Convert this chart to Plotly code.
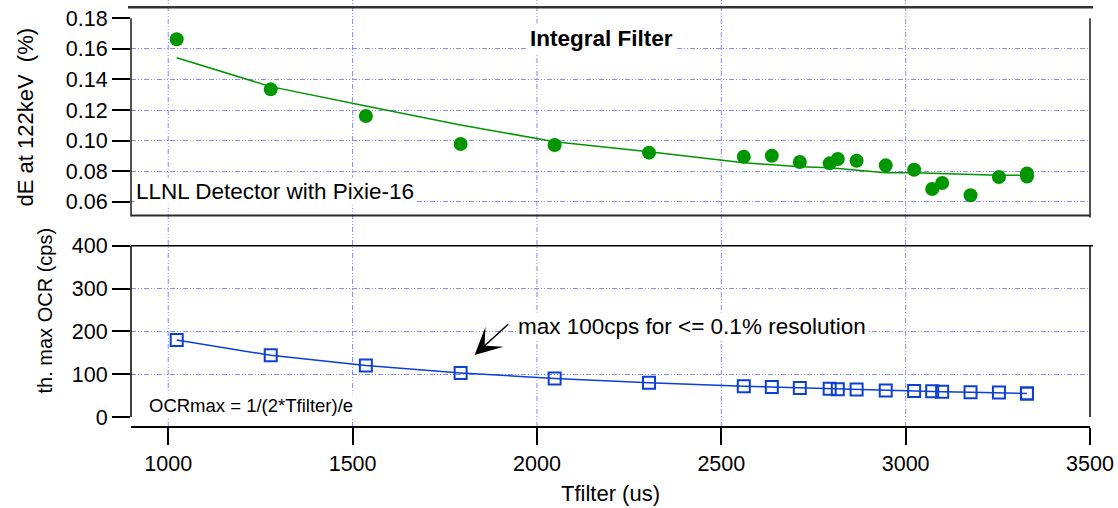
import plotly.graph_objects as go

# ---- data -------------------------------------------------------------
t_filter = [1023, 1278, 1536, 1793, 2048, 2304, 2561, 2637, 2713, 2794,
            2816, 2867, 2946, 3023, 3072, 3099, 3176, 3253, 3329, 3329]
de_pct = [0.1663, 0.1335, 0.1161, 0.0978, 0.0971, 0.0921, 0.0894, 0.0901,
          0.0860, 0.0851, 0.0879, 0.0868, 0.0838, 0.0809, 0.0683, 0.0722,
          0.0642, 0.0762, 0.0785, 0.0765]
de_fit = [0.1542, 0.1353, 0.1226, 0.1102, 0.0993, 0.0927, 0.0855, 0.0840,
          0.0829, 0.0822, 0.0818, 0.0807, 0.0790, 0.0790, 0.0786, 0.0785,
          0.0775, 0.0773, 0.0772, 0.0772]
ocr_max = [180, 144, 120, 103, 90, 80, 72, 70, 68, 66,
           65, 64, 62, 61, 60, 59, 58, 57, 55, 55]

x_ticks = [1000, 1500, 2000, 2500, 3000, 3500]
de_ticks = [0.06, 0.08, 0.10, 0.12, 0.14, 0.16, 0.18]
ocr_ticks = [0, 100, 200, 300, 400]

# ---- page geometry (pixels) ------------------------------------------
W, H = 1118, 508
ML, MR, MT, MB = 131, 28, 0, 81
PW = W - ML - MR
PH = H - MT - MB


def fx(p):
    return (p - ML) / PW


def fy(p):
    return (H - MB - p) / PH


FONT = "Arial, Liberation Sans, sans-serif"
GREEN = "#009600"
BLUE = "#0b3fd6"
GRID = "rgb(135,135,255)"
GRID_DASH = "5px,2px,1px,2px,1px,2px"

fig = go.Figure()

fig.add_trace(go.Scatter(
    x=t_filter, y=de_fit, mode="lines",
    line=dict(color=GREEN, width=1.5),
    xaxis="x", yaxis="y", showlegend=False, hoverinfo="skip"))
fig.add_trace(go.Scatter(
    x=t_filter, y=de_pct, mode="markers",
    marker=dict(symbol="circle", size=14, color=GREEN, line=dict(width=0)),
    xaxis="x", yaxis="y", showlegend=False))
fig.add_trace(go.Scatter(
    x=t_filter, y=ocr_max, mode="lines+markers",
    line=dict(color=BLUE, width=1.5),
    marker=dict(symbol="square-open", size=12, color=BLUE,
                line=dict(width=2, color=BLUE)),
    xaxis="x2", yaxis="y2", showlegend=False))

x_range = [899, 3500]
tick_font = dict(family=FONT, size=21.5, color="black")

fig.update_layout(
    width=W, height=H,
    margin=dict(l=ML, r=MR, t=MT, b=MB, pad=0, autoexpand=False),
    paper_bgcolor="white", plot_bgcolor="rgba(0,0,0,0)",
    font=dict(family=FONT, color="black"),
    xaxis=dict(domain=[0, 1], range=x_range, anchor="y", automargin=False,
               showgrid=False, zeroline=False, showline=False,
               showticklabels=False, ticks=""),
    yaxis=dict(domain=[fy(215.5), fy(18.3)], range=[0.05097, 0.18],
               anchor="x", automargin=False, tickvals=de_ticks,
               tickformat=".2f",
               ticks="outside", ticklen=18, tickwidth=1.5, tickcolor="black",
               tickfont=tick_font, showline=False, zeroline=False,
               showgrid=True, gridcolor=GRID, gridwidth=1, griddash=GRID_DASH),
    xaxis2=dict(domain=[0, 1], range=x_range, anchor="free", position=0,
                automargin=False, tickvals=x_ticks, ticks="outside",
                ticklen=17, tickwidth=1.5,
                tickcolor="black", tickfont=tick_font,
                showline=True, linecolor="black", linewidth=1.5,
                showgrid=False, zeroline=False),
    yaxis2=dict(domain=[fy(417), fy(245.7)], range=[0, 400],
                anchor="x2", automargin=False, tickvals=ocr_ticks,
                ticks="outside", ticklen=18, tickwidth=1.5, tickcolor="black",
                tickfont=tick_font, showline=False, zeroline=False,
                showgrid=True, gridcolor=GRID, gridwidth=1, griddash=GRID_DASH),
)

shapes = []
# vertical grid running through both panels
for xv in x_ticks[:-1]:
    shapes.append(dict(type="line", xref="x", yref="paper",
                       x0=xv, x1=xv, y0=0, y1=fy(0),
                       line=dict(color=GRID, width=1, dash=GRID_DASH),
                       layer="below"))


def seg(x0, y0, x1, y1, color="black", width=1.5):
    shapes.append(dict(type="line", xref="paper", yref="paper",
                       x0=fx(x0), y0=fy(y0), x1=fx(x1), y1=fy(y1),
                       line=dict(color=color, width=width), layer="above"))


# upper panel frame
seg(128, 7.3, 1093, 7.3, "#333333", 2.5)
seg(131, 18.3, 131, 216.5, "#1a1a1a", 1.5)
seg(1090, 18.3, 1090, 217.5, "#1a1a1a", 1.5)
seg(131, 215.5, 1090, 215.5, "#2a2a2a", 2)
# lower panel frame
seg(131, 245.7, 1093, 245.7)
seg(131, 245.7, 131, 417)
seg(1090, 245.7, 1090, 417)

fig.update_layout(shapes=shapes)

ann = []
ann.append(dict(text="dE at 122keV  (%)", textangle=-90,
                xref="paper", yref="paper", x=fx(25.5), y=fy(117),
                xanchor="center", yanchor="middle", showarrow=False,
                font=dict(family=FONT, size=22, color="black")))
ann.append(dict(text="th. max OCR (cps)", textangle=-90,
                xref="paper", yref="paper", x=fx(44.5), y=fy(311),
                xanchor="center", yanchor="middle", showarrow=False,
                font=dict(family=FONT, size=20, color="black")))
ann.append(dict(text="Tfilter (us)", xref="paper", yref="paper",
                x=0.5, y=fy(493), xanchor="center", yanchor="middle",
                showarrow=False, font=dict(family=FONT, size=22, color="black")))
ann.append(dict(text="<b>Integral Filter</b>", xref="paper", yref="paper",
                x=fx(601), y=fy(39), xanchor="center", yanchor="middle",
                showarrow=False, bgcolor="white", borderpad=2,
                font=dict(family=FONT, size=22.5, color="black")))
ann.append(dict(text="LLNL Detector with Pixie-16", xref="paper", yref="paper",
                x=fx(134), y=fy(191), xanchor="left", yanchor="middle",
                showarrow=False, bgcolor="white", borderpad=1,
                font=dict(family=FONT, size=22.5, color="black")))
ann.append(dict(text="max 100cps for &lt;= 0.1% resolution", xref="paper",
                yref="paper", x=fx(516), y=fy(326), xanchor="left",
                yanchor="middle", showarrow=False, bgcolor="white",
                borderpad=1,
                font=dict(family=FONT, size=22.5, color="black")))
ann.append(dict(text="OCRmax = 1/(2*Tfilter)/e", xref="paper", yref="paper",
                x=fx(147), y=fy(405), xanchor="left", yanchor="middle",
                showarrow=False, bgcolor="white", borderpad=1,
                font=dict(family=FONT, size=18.5, color="black")))
# pointer arrow
ann.append(dict(text="", xref="x2", yref="y2", x=1831, y=145,
                ax=35, ay=-32, showarrow=True, arrowhead=3,
                arrowsize=3, arrowwidth=1.5, arrowcolor="black"))
fig.update_layout(annotations=ann)

fig.write_html("out.html")
